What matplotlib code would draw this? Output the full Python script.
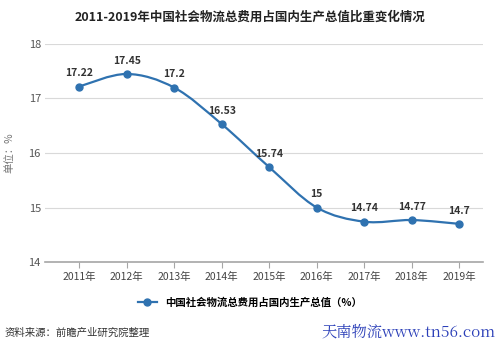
import numpy as np
import matplotlib.pyplot as plt
from matplotlib.path import Path
from matplotlib.patches import PathPatch
from matplotlib.lines import Line2D

plt.rcParams['font.family'] = ['Noto Sans CJK SC', 'DejaVu Sans']

# 数据
years = ['2011年', '2012年', '2013年', '2014年', '2015年', '2016年', '2017年', '2018年', '2019年']
ratio = [17.22, 17.45, 17.2, 16.53, 15.74, 15, 14.74, 14.77, 14.7]
value_labels = ['17.22', '17.45', '17.2', '16.53', '15.74', '15', '14.74', '14.77', '14.7']

line_color = '#2f72b0'

fig = plt.figure(figsize=(5, 3.5), dpi=100)
ax = fig.add_axes([0.09, 0.2514, 0.876, 0.6229])

x = np.arange(len(years))
y = np.array(ratio)

# 平滑曲线：Catmull-Rom 转三次贝塞尔
verts = [(x[0], y[0])]
codes = [Path.MOVETO]
t = 0.5 / 3
for i in range(len(x) - 1):
    p0 = (x[i - 1], y[i - 1]) if i > 0 else (x[i], y[i])
    p1 = (x[i], y[i])
    p2 = (x[i + 1], y[i + 1])
    p3 = (x[i + 2], y[i + 2]) if i + 2 < len(x) else (x[i + 1], y[i + 1])
    c1 = (p1[0] + (p2[0] - p0[0]) * t, p1[1] + (p2[1] - p0[1]) * t)
    c2 = (p2[0] - (p3[0] - p1[0]) * t, p2[1] - (p3[1] - p1[1]) * t)
    verts += [c1, c2, p2]
    codes += [Path.CURVE4] * 3
ax.add_patch(PathPatch(Path(verts, codes), facecolor='none', edgecolor=line_color, lw=1.6, zorder=3))
ax.plot(x, y, 'o', color=line_color, ms=5, zorder=4)

for xi, yi, lab in zip(x, y, value_labels):
    ax.annotate(lab, (xi, yi), xytext=(0, 6), textcoords='offset points',
                ha='center', va='bottom', fontsize=7.5, fontweight='bold', color='#333333')

ax.set_xlim(-0.72, 8.5)
ax.set_ylim(14, 18)
ax.set_yticks([14, 15, 16, 17, 18])
ax.set_xticks(x)
ax.set_xticklabels(years)
ax.grid(axis='y', color='#d9d9d9', lw=0.8)
ax.set_axisbelow(True)
for s in ['top', 'right', 'left']:
    ax.spines[s].set_visible(False)
ax.spines['bottom'].set_color('#a6a6a6')
ax.spines['bottom'].set_linewidth(1.2)
ax.tick_params(axis='y', length=0, labelsize=8, colors='#555555', pad=3)
ax.tick_params(axis='x', length=4, color='#a6a6a6', labelsize=7.5, colors='#444444', pad=3)
ax.set_ylabel('单位：%', fontsize=7.5, color='#777777')
ax.yaxis.set_label_coords(-0.07, 0.5)

fig.text(0.5, 0.95, '2011-2019年中国社会物流总费用占国内生产总值比重变化情况',
         ha='center', va='center', fontsize=9, fontweight='bold', color='#222222')

handle = Line2D([], [], color=line_color, marker='o', ms=5, lw=1.6)
fig.legend([handle], ['中国社会物流总费用占国内生产总值（%）'], loc='center',
           bbox_to_anchor=(0.5, 0.135), frameon=False,
           handlelength=1.8, prop={'weight': 'bold', 'size': 7.5})

fig.text(0.01, 0.05, '资料来源：前瞻产业研究院整理', ha='left', va='center',
         fontsize=7.5, color='#333333')
fig.text(0.99, 0.05, '天南物流www.tn56.com', ha='right', va='center',
         fontsize=11, color='#2b3fb8', family=['Noto Serif CJK SC', 'DejaVu Serif'])

fig.savefig('out.png', dpi=100)
